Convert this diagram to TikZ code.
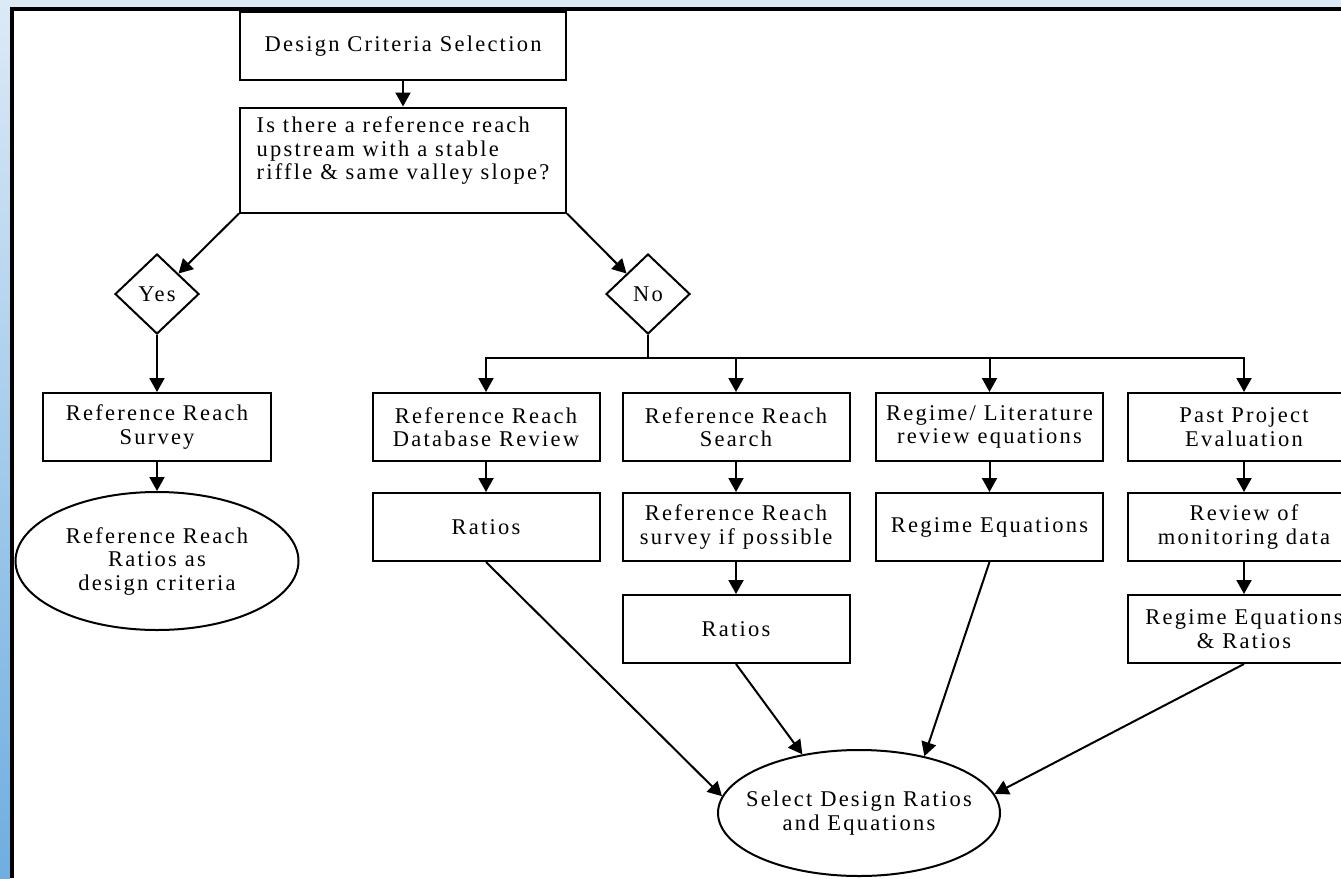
\documentclass[tikz,border=0pt]{standalone}
\usepackage{fontspec}
\setmainfont{Liberation Serif}[LetterSpace=10,Ligatures=NoCommon]
\usetikzlibrary{shapes.geometric,arrows.meta}
\definecolor{skytop}{HTML}{DCEAF7}
\definecolor{skybot}{HTML}{6FAEE0}

\begin{document}
\begin{tikzpicture}[x=1pt,y=-1pt,
  every node/.style={font=\fontsize{22.5}{23.5}\selectfont},
  box/.style={draw,line width=2pt,rectangle,minimum width=227pt,minimum height=68pt,align=center,inner sep=0pt},
  decision/.style={draw,line width=2pt,diamond,minimum width=84pt,minimum height=80pt,inner sep=0pt},
  oval/.style={draw,line width=2pt,ellipse,minimum width=282pt,minimum height=126pt,align=center,inner xsep=-40pt,inner ysep=-10pt},
  arr/.style={line width=2pt,-{Triangle[length=14pt,width=15pt]}}]
        % Frame
        \clip (0,0) rectangle (1341,878);
        \fill[white] (0,0) rectangle (1341,878);
        \fill[skytop] (0,0) rectangle (1341,7);
        \shade[top color=skytop,bottom color=skybot] (0,0) rectangle (10,878);
        \fill[black] (10,7) rectangle (1341,11);
        \fill[black] (10,7) rectangle (14,878);

        % Top
        \node[box,minimum width=326pt] (design) at (403,46) {Design Criteria Selection};
        \node[box,minimum width=326pt,minimum height=105pt,align=left] (reach) at (403,160) {Is there a reference reach\\upstream with a stable\\riffle \& same valley slope?\\\mbox{}};
        \node[decision] (yes) at (157,294) {Yes};
        \node[decision] (no) at (648,294) {No};

        % Yes branch
        \node[box,minimum width=228pt] (survey) at (157,427) {Reference Reach\\Survey};
        \node[oval,minimum width=283pt,minimum height=138pt] (refratio) at (157,561) {Reference Reach\\Ratios as\\design criteria};

        % No branch
        \node[box] (dbreview) at (486,427) {Reference Reach\\Database Review};
        \node[box] (search) at (736,427) {Reference Reach\\Search};
        \node[box] (regime) at (989.5,427) {Regime/ Literature\\review equations};
        \node[box,minimum width=232pt] (past) at (1244,427) {Past Project\\Evaluation};
        \node[box] (dbratios) at (486,527) {Ratios};
        \node[box] (resurvey) at (736,527) {Reference Reach\\survey if possible};
        \node[box] (regeq) at (989.5,527) {Regime Equations};
        \node[box,minimum width=232pt] (monitor) at (1244,527) {Review of\\monitoring data};
        \node[box] (srratios) at (736,629) {Ratios};
        \node[box,minimum width=232pt] (regratio) at (1244,629) {Regime Equations\\\& Ratios};
        \node[oval] (select) at (859,813) {Select Design Ratios\\and Equations};

        % Connectors
        \draw[arr] (design) -- (reach);
        \draw[arr] (reach.south west) -- (yes.north east);
        \draw[arr] (reach.south east) -- (no.north west);
        \draw[arr] (yes) -- (survey);
        \draw[arr] (survey) -- (refratio);
        \coordinate (split) at (648,358);
        \draw[line width=2pt] (no.south) -- (split);
        \draw[line width=2pt,line cap=rect] (split -| dbreview) -- (split -| past);
        \foreach \n in {dbreview,search,regime,past}{
        \draw[arr] (split -| \n) -- (\n.north);
        }
        \foreach \a/\b in {dbreview/dbratios,search/resurvey,regime/regeq,past/monitor,resurvey/srratios,monitor/regratio}{
        \draw[arr] (\a) -- (\b);
        }
        \draw[arr] (dbratios.south) -- (select.173);
        \draw[arr] (srratios.south) -- (select.134);
        \draw[arr] (regeq.south) -- (select.41);
        \draw[arr] (regratio.south) -- (select.8);
\end{tikzpicture}
\end{document}
